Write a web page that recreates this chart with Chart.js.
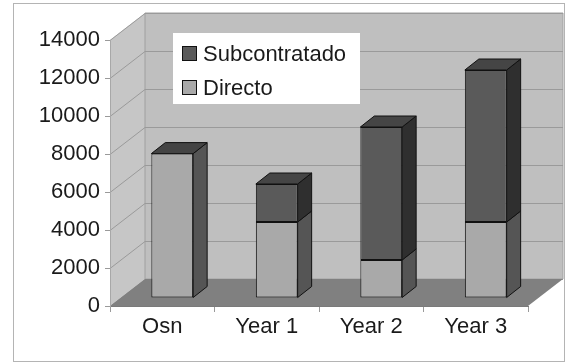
<!DOCTYPE html>
<html lang="es">
<head>
<meta charset="UTF-8">
<title>Directo / Subcontratado</title>
<style>
    body {
        margin: 0;
        background: #ffffff;
    }
    #wrap {
        width: 570px;
        height: 363px;
    }
</style>
</head>
<body>
<div id="wrap">
    <canvas id="chart" width="570" height="363"></canvas>
</div>

<script src="https://cdn.jsdelivr.net/npm/chart.js"></script>
<script>
    // data
    const categories = ['Osn', 'Year 1', 'Year 2', 'Year 3'];
    const directo = [7600, 4000, 2000, 4000];
    const subcontratado = [0, 2000, 7000, 8000];
    const yTicks = [0, 2000, 4000, 6000, 8000, 10000, 12000, 14000];

    // 3d look
    const WALL = { dx: 35, dy: -27 };      // depth of the box
    const BAR_SHIFT = { dx: 10, dy: -8 };  // bars sit a bit behind the front plane
    const BAR_DEPTH = { dx: 14, dy: -11 };

    const FONT = { family: "'Liberation Sans', Arial, sans-serif", size: 22 };

    const looks = [
        { front: '#a9a9a9', side: '#555555', top: '#444444' },   // Directo
        { front: '#5a5a5a', side: '#2f2f2f', top: '#454545' }    // Subcontratado
    ];

    function poly(ctx, pts, fill, stroke) {
        ctx.beginPath();
        ctx.moveTo(pts[0][0], pts[0][1]);
        for (let i = 1; i < pts.length; i++) ctx.lineTo(pts[i][0], pts[i][1]);
        ctx.closePath();
        if (fill) { ctx.fillStyle = fill; ctx.fill(); }
        if (stroke) { ctx.strokeStyle = stroke; ctx.lineWidth = 1; ctx.stroke(); }
    }

    // frame, walls, floor and wall gridlines
    const boxPlugin = {
        id: 'box',
        beforeDraw(chart) {
            const ctx = chart.ctx;
            const a = chart.chartArea;
            const y = chart.scales.y;
            ctx.save();

            ctx.strokeStyle = '#b4b4b4';
            ctx.lineWidth = 1;
            ctx.strokeRect(13.5, 3.5, 551, 358);

            // side wall
            poly(ctx, [[a.left, a.bottom], [a.left, a.top],
                       [a.left + WALL.dx, a.top + WALL.dy], [a.left + WALL.dx, a.bottom + WALL.dy]],
                 '#c6c6c6', null);
            // back wall
            poly(ctx, [[a.left + WALL.dx, a.top + WALL.dy], [a.right + WALL.dx, a.top + WALL.dy],
                       [a.right + WALL.dx, a.bottom + WALL.dy], [a.left + WALL.dx, a.bottom + WALL.dy]],
                 '#bfbfbf', '#a0a0a0');

            ctx.strokeStyle = '#9a9a9a';
            ctx.lineWidth = 1;
            yTicks.forEach(v => {
                const py = Math.round(y.getPixelForValue(v)) + 0.5;
                ctx.beginPath();
                ctx.moveTo(a.left, py);
                ctx.lineTo(a.left + WALL.dx, py + WALL.dy);
                ctx.lineTo(a.right + WALL.dx, py + WALL.dy);
                ctx.stroke();
            });

            // floor
            poly(ctx, [[a.left, a.bottom], [a.right, a.bottom],
                       [a.right + WALL.dx, a.bottom + WALL.dy], [a.left + WALL.dx, a.bottom + WALL.dy]],
                 '#808080', null);

            ctx.restore();
        },
        beforeDatasetsDraw(chart) {
            chart.ctx.save();
            chart.ctx.translate(BAR_SHIFT.dx, BAR_SHIFT.dy);
        },
        afterDatasetsDraw(chart) {
            const ctx = chart.ctx;
            ctx.restore();
            ctx.save();
            ctx.lineJoin = 'round';
            const n = chart.data.datasets.length;
            categories.forEach((c, j) => {
                let topIdx = -1;
                for (let i = 0; i < n; i++) {
                    if (chart.data.datasets[i].data[j] > 0) topIdx = i;
                }
                for (let i = 0; i < n; i++) {
                    if (!(chart.data.datasets[i].data[j] > 0)) continue;
                    const el = chart.getDatasetMeta(i).data[j];
                    const p = el.getProps(['x', 'y', 'base', 'width'], true);
                    const L = p.x - p.width / 2 + BAR_SHIFT.dx;
                    const R = p.x + p.width / 2 + BAR_SHIFT.dx;
                    const T = p.y + BAR_SHIFT.dy;
                    const B = p.base + BAR_SHIFT.dy;
                    poly(ctx, [[R, T], [R + BAR_DEPTH.dx, T + BAR_DEPTH.dy],
                               [R + BAR_DEPTH.dx, B + BAR_DEPTH.dy], [R, B]],
                         looks[i].side, '#111111');
                    if (i === topIdx) {
                        poly(ctx, [[L, T], [L + BAR_DEPTH.dx, T + BAR_DEPTH.dy],
                                   [R + BAR_DEPTH.dx, T + BAR_DEPTH.dy], [R, T]],
                             looks[i].top, '#111111');
                    }
                }
            });
            ctx.restore();
        },
        afterDraw(chart) {
            // legend box inside the plot
            const ctx = chart.ctx;
            ctx.save();
            ctx.fillStyle = '#ffffff';
            ctx.fillRect(173, 33, 187, 71);
            ctx.font = FONT.size + 'px ' + FONT.family;
            ctx.textBaseline = 'middle';
            const rows = [1, 0];
            rows.forEach((i, r) => {
                const cy = 54 + r * 34;
                ctx.fillStyle = looks[i].front;
                ctx.fillRect(182.5, cy - 7.5, 14, 14);
                ctx.strokeStyle = '#111111';
                ctx.lineWidth = 1;
                ctx.strokeRect(182.5, cy - 7.5, 14, 14);
                ctx.fillStyle = '#1a1a1a';
                ctx.fillText(chart.data.datasets[i].label, 203, cy + 1);
            });
            ctx.restore();
        }
    };

    new Chart(document.getElementById('chart'), {
        type: 'bar',
        data: {
            labels: categories,
            datasets: [
                {
                    label: 'Directo',
                    data: directo,
                    backgroundColor: looks[0].front,
                    borderColor: '#111111',
                    borderWidth: ctx => (ctx.raw ? 1 : 0),
                    borderSkipped: false,
                    clip: false
                },
                {
                    label: 'Subcontratado',
                    data: subcontratado,
                    backgroundColor: looks[1].front,
                    borderColor: '#111111',
                    borderWidth: ctx => (ctx.raw ? 1 : 0),
                    borderSkipped: false,
                    clip: false
                }
            ]
        },
        options: {
            responsive: false,
            animation: false,
            layout: { padding: { left: 0, right: 42, top: 40, bottom: 0 } },
            datasets: {
                bar: { categoryPercentage: 1, barPercentage: 0.4 }
            },
            plugins: {
                legend: { display: false },
                tooltip: { enabled: false }
            },
            scales: {
                x: {
                    stacked: true,
                    afterFit: s => { s.height = 57; },
                    border: { display: true, color: '#7a7a7a' },
                    grid: { drawOnChartArea: false, drawTicks: true, tickLength: 6, color: '#9a9a9a' },
                    ticks: { color: '#1a1a1a', font: FONT, padding: 2 }
                },
                y: {
                    stacked: true,
                    min: 0,
                    max: 14000,
                    afterFit: s => { s.width = 110; },
                    afterBuildTicks: s => { s.ticks = yTicks.map(v => ({ value: v })); },
                    border: { display: true, color: '#a8a8a8' },
                    grid: { drawOnChartArea: false, drawTicks: true, tickLength: 5, color: '#9a9a9a' },
                    ticks: { color: '#1a1a1a', font: FONT, padding: 5, callback: v => String(v) }
                }
            }
        },
        plugins: [boxPlugin]
    });
</script>
</body>
</html>
